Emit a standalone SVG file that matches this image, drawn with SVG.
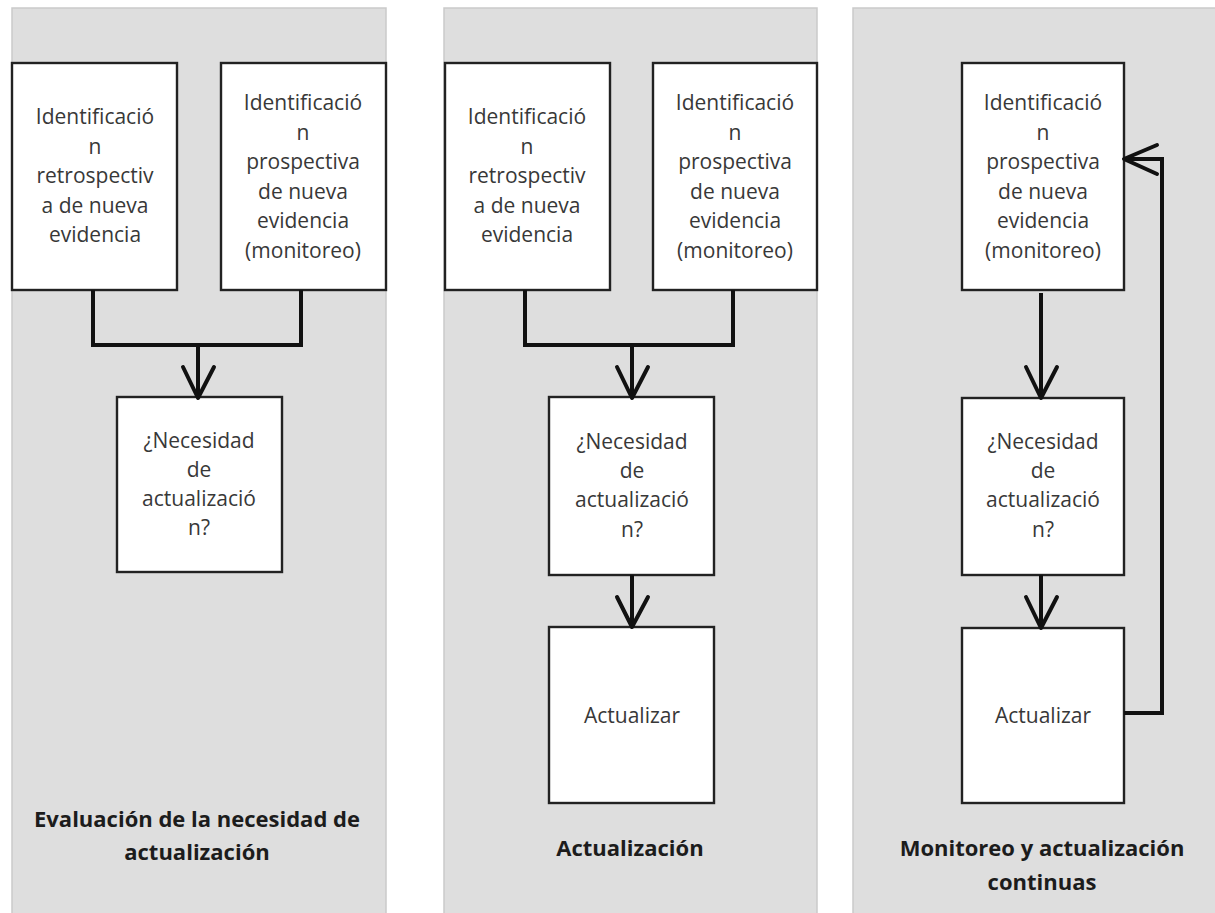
<svg xmlns="http://www.w3.org/2000/svg" width="1215" height="913" viewBox="0 0 1215 913">
  <style>
    .panel { fill: #dedede; stroke: #cacaca; stroke-width: 1.5; }
    .box { fill: #ffffff; stroke: #222222; stroke-width: 2.4; }
    .lbl { font-family: "Open Sans", "Liberation Sans", sans-serif; font-size: 21px; fill: #383838; text-anchor: middle; }
    .ttl { font-family: "Open Sans", "Liberation Sans", sans-serif; font-size: 22px; font-weight: bold; fill: #1c1c1c; text-anchor: middle; }
    .wire { fill: none; stroke: #111111; stroke-width: 4; stroke-linejoin: miter; }
    .head { fill: none; stroke: #111111; stroke-width: 4; stroke-linecap: round; stroke-linejoin: round; }
  </style>

  <!-- column backgrounds -->
  <g id="panels">
    <rect class="panel" x="12" y="8" width="374" height="910"/>
    <rect class="panel" x="444" y="8" width="373" height="910"/>
    <rect class="panel" x="853" y="8" width="370" height="910"/>
  </g>

  <!-- column 1: evaluación -->
  <g id="p1-retro">
    <rect class="box" x="12" y="63" width="165" height="227"/>
    <text class="lbl" x="95"><tspan x="95" y="124">Identificació</tspan><tspan x="95" y="153.5">n</tspan><tspan x="95" y="183">retrospectiv</tspan><tspan x="95" y="212.5">a de nueva</tspan><tspan x="95" y="242">evidencia</tspan></text>
  </g>
  <g id="p1-prosp">
    <rect class="box" x="221" y="63" width="165" height="227"/>
    <text class="lbl" x="303"><tspan x="303" y="110">Identificació</tspan><tspan x="303" y="139.5">n</tspan><tspan x="303" y="169">prospectiva</tspan><tspan x="303" y="198.5">de nueva</tspan><tspan x="303" y="228">evidencia</tspan><tspan x="303" y="257.5">(monitoreo)</tspan></text>
  </g>
  <g id="p1-need">
    <rect class="box" x="117" y="397" width="165" height="175"/>
    <text class="lbl" x="199"><tspan x="199" y="448">¿Necesidad</tspan><tspan x="199" y="477">de</tspan><tspan x="199" y="506">actualizació</tspan><tspan x="199" y="535">n?</tspan></text>
  </g>
  <g id="p1-title">
    <text class="ttl" x="197"><tspan x="197" y="827">Evaluación de la necesidad de</tspan><tspan x="197" y="860">actualización</tspan></text>
  </g>

  <!-- column 2: actualización -->
  <g id="p2-retro">
    <rect class="box" x="445" y="63" width="165" height="227"/>
    <text class="lbl" x="527"><tspan x="527" y="124">Identificació</tspan><tspan x="527" y="153.5">n</tspan><tspan x="527" y="183">retrospectiv</tspan><tspan x="527" y="212.5">a de nueva</tspan><tspan x="527" y="242">evidencia</tspan></text>
  </g>
  <g id="p2-prosp">
    <rect class="box" x="653" y="63" width="164" height="227"/>
    <text class="lbl" x="735"><tspan x="735" y="110">Identificació</tspan><tspan x="735" y="139.5">n</tspan><tspan x="735" y="169">prospectiva</tspan><tspan x="735" y="198.5">de nueva</tspan><tspan x="735" y="228">evidencia</tspan><tspan x="735" y="257.5">(monitoreo)</tspan></text>
  </g>
  <g id="p2-need">
    <rect class="box" x="549" y="397" width="165" height="178"/>
    <text class="lbl" x="632"><tspan x="632" y="449">¿Necesidad</tspan><tspan x="632" y="478">de</tspan><tspan x="632" y="507">actualizació</tspan><tspan x="632" y="537">n?</tspan></text>
  </g>
  <g id="p2-update">
    <rect class="box" x="549" y="627" width="165" height="176"/>
    <text class="lbl" x="632" y="723">Actualizar</text>
  </g>
  <g id="p2-title">
    <text class="ttl" x="630" y="856">Actualización</text>
  </g>

  <!-- column 3: monitoreo continuo -->
  <g id="p3-prosp">
    <rect class="box" x="962" y="63" width="162" height="227"/>
    <text class="lbl" x="1043"><tspan x="1043" y="110">Identificació</tspan><tspan x="1043" y="139.5">n</tspan><tspan x="1043" y="169">prospectiva</tspan><tspan x="1043" y="198.5">de nueva</tspan><tspan x="1043" y="228">evidencia</tspan><tspan x="1043" y="257.5">(monitoreo)</tspan></text>
  </g>
  <g id="p3-need">
    <rect class="box" x="962" y="398" width="162" height="177"/>
    <text class="lbl" x="1043"><tspan x="1043" y="449">¿Necesidad</tspan><tspan x="1043" y="478">de</tspan><tspan x="1043" y="507">actualizació</tspan><tspan x="1043" y="537">n?</tspan></text>
  </g>
  <g id="p3-update">
    <rect class="box" x="962" y="628" width="162" height="175"/>
    <text class="lbl" x="1043" y="723">Actualizar</text>
  </g>
  <g id="p3-title">
    <text class="ttl" x="1042"><tspan x="1042" y="856">Monitoreo y actualización</tspan><tspan x="1042" y="890">continuas</tspan></text>
  </g>

  <!-- connectors -->
  <g id="connectors">
    <path class="wire" d="M93,290 V345 H301 V290"/>
    <path class="wire" d="M198,345 V396"/>
    <polyline class="head" points="183,367 198,398 214,367"/>

    <path class="wire" d="M525,290 V345 H733 V290"/>
    <path class="wire" d="M632,345 V396"/>
    <polyline class="head" points="617,367 632,398 648,367"/>
    <path class="wire" d="M632,575 V626"/>
    <polyline class="head" points="617,597 632,627 648,597"/>

    <path class="wire" d="M1041,293 V397"/>
    <polyline class="head" points="1026,367 1041,398 1057,367"/>
    <path class="wire" d="M1041,575 V627"/>
    <polyline class="head" points="1026,597 1041,628 1057,597"/>
    <path class="wire" d="M1124,713 H1162 V159 H1126"/>
    <polyline class="head" points="1157,145 1124,159 1157,174"/>
  </g>
</svg>
